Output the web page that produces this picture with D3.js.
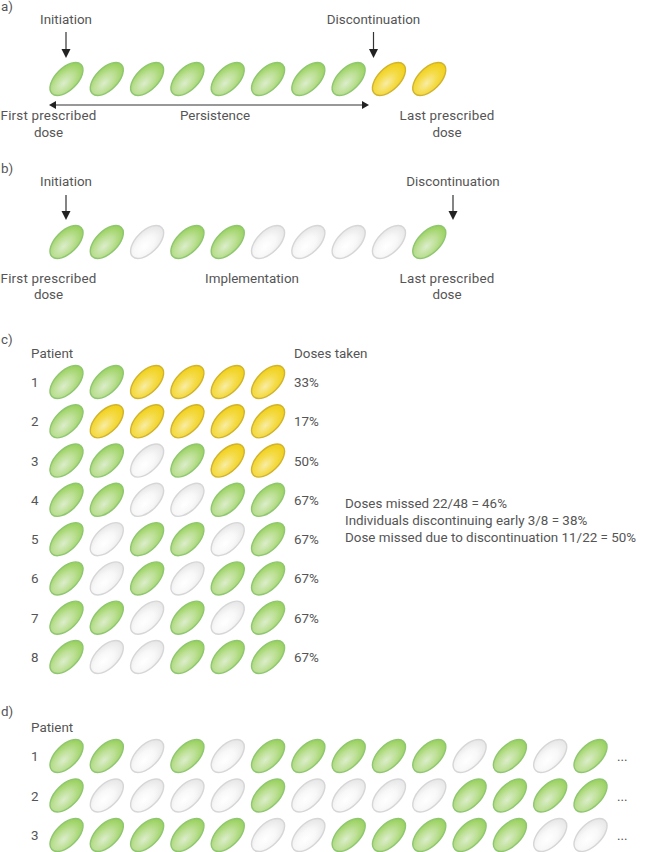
<!DOCTYPE html>
<html>
<head>
<meta charset="utf-8">
<script src="https://cdn.jsdelivr.net/npm/d3@7"></script>
<style>
html, body { margin: 0; padding: 0; background: #fff; }
svg { display: block; }
text { font-family: Roboto, sans-serif; font-size: 13.4px; fill: #555; }
text.wide { letter-spacing: 0.2px; }
</style>
</head>
<body>
<svg id="chart" width="656" height="852"></svg>
<script>
// G = taken, Y = prescribed but not taken after stopping, W = missed
var panelA = 'GGGGGGGGYY';
var panelB = 'GGWGGWWWWG';
var panelC = ['GGYYYY', 'GYYYYY', 'GGWGYY', 'GGWWGG', 'GWGGWG', 'GWGWGG', 'GGWGWG', 'GWWGGG'];
var panelD = ['GGWGWGGGGGWGWG', 'GWWWWGWWWWGGGG', 'GGGGGWWGGGGGWW'];
var dosesTaken = ['33%', '17%', '50%', '67%', '67%', '67%', '67%', '67%'];
var summary = ['Doses missed 22/48 = 46%', 'Individuals discontinuing early 3/8 = 38%', 'Dose missed due to discontinuation 11/22 = 50%'];

var svg = d3.select('#chart');
var defs = svg.append('defs');

var x = d3.scaleLinear().domain([0, 13]).range([66.5, 590.5]);
var yC = d3.scaleLinear().domain([0, 7]).range([382, 657]);
var yD = d3.scaleLinear().domain([0, 2]).range([756, 835]);

var colours = {
    G: { id: 'pillG', edge: '#8fc672', stops: ['#dcedcb', '#bde096', '#97d05a'] },
    Y: { id: 'pillY', edge: '#d0b32f', stops: ['#f8eda5', '#f5dc4c', '#f0cf14'] },
    W: { id: 'pillW', edge: '#d6d6d6', stops: ['#ffffff', '#f8f8f8', '#e6e6e6'] }
};

// highlight sits toward the lower-left end of each pill
Object.keys(colours).forEach(function(k) {
    var c = colours[k];
    var grad = defs.append('radialGradient').attr('id', c.id)
            .attr('cx', 0.38).attr('cy', 0.55).attr('r', 0.62);
    grad.selectAll('stop').data(c.stops).enter().append('stop')
            .attr('offset', (d, i) => i / 2)
            .attr('stop-color', d => d);
});

function pills(row, y) {
    svg.append('g').selectAll('ellipse').data(row.split('')).enter().append('ellipse')
            .attr('rx', 20.6)
            .attr('ry', 11)
            .attr('transform', (d, i) => 'translate(' + x(i) + ',' + y + ') rotate(-45)')
            .attr('fill', d => 'url(#' + colours[d].id + ')')
            .attr('stroke', d => colours[d].edge)
            .attr('stroke-width', 1.4);
}

function label(str, px, py, anchor, cls) {
    svg.append('text').attr('x', px).attr('y', py)
            .attr('class', cls || null)
            .attr('text-anchor', anchor || 'start').text(str);
}

function arrowDown(px, y1, y2) {
    svg.append('line').attr('x1', px).attr('x2', px).attr('y1', y1).attr('y2', y2 - 8)
            .attr('stroke', '#333').attr('stroke-width', 1.2);
    svg.append('path').attr('d', d3.line()([[px - 4.5, y2 - 9], [px + 4.5, y2 - 9], [px, y2]]))
            .attr('fill', '#222');
}

label('a)', 1, 11);
label('Initiation', 66, 24, 'middle');
label('Discontinuation', 373.5, 24, 'middle');
arrowDown(66, 32, 58);
arrowDown(373.5, 32, 58);
pills(panelA, 79);
svg.append('line').attr('x1', 54).attr('x2', 362).attr('y1', 105).attr('y2', 105)
        .attr('stroke', '#333').attr('stroke-width', 1.2);
svg.append('path').attr('d', d3.line()([[49, 105], [56, 101], [56, 109]])).attr('fill', '#222');
svg.append('path').attr('d', d3.line()([[369, 105], [362, 101], [362, 109]])).attr('fill', '#222');
label('First prescribed', 48.5, 120, 'middle', 'wide');
label('dose', 48.5, 137, 'middle');
label('Persistence', 215, 120, 'middle');
label('Last prescribed', 447, 120, 'middle', 'wide');
label('dose', 447, 137, 'middle');

label('b)', 1, 173);
label('Initiation', 66, 186, 'middle');
label('Discontinuation', 453, 186, 'middle');
arrowDown(66, 195, 220);
arrowDown(453, 195, 220);
pills(panelB, 242);
label('First prescribed', 48.5, 283, 'middle', 'wide');
label('dose', 48.5, 299, 'middle');
label('Implementation', 252, 283, 'middle');
label('Last prescribed', 447, 283, 'middle', 'wide');
label('dose', 447, 299, 'middle');

label('c)', 1, 344);
label('Patient', 31, 358);
label('Doses taken', 294, 358);
panelC.forEach(function(row, i) {
    pills(row, yC(i));
    label(String(i + 1), 31, yC(i) + 5);
    label(dosesTaken[i], 294, yC(i) + 5);
});
summary.forEach(function(s, i) {
    label(s, 345, 508 + i * 17);
});

label('d)', 1, 716);
label('Patient', 31, 732);
panelD.forEach(function(row, i) {
    pills(row, yD(i));
    label(String(i + 1), 31, yD(i) + 5);
    label('...', 617, yD(i) + 5);
});
</script>
</body>
</html>
